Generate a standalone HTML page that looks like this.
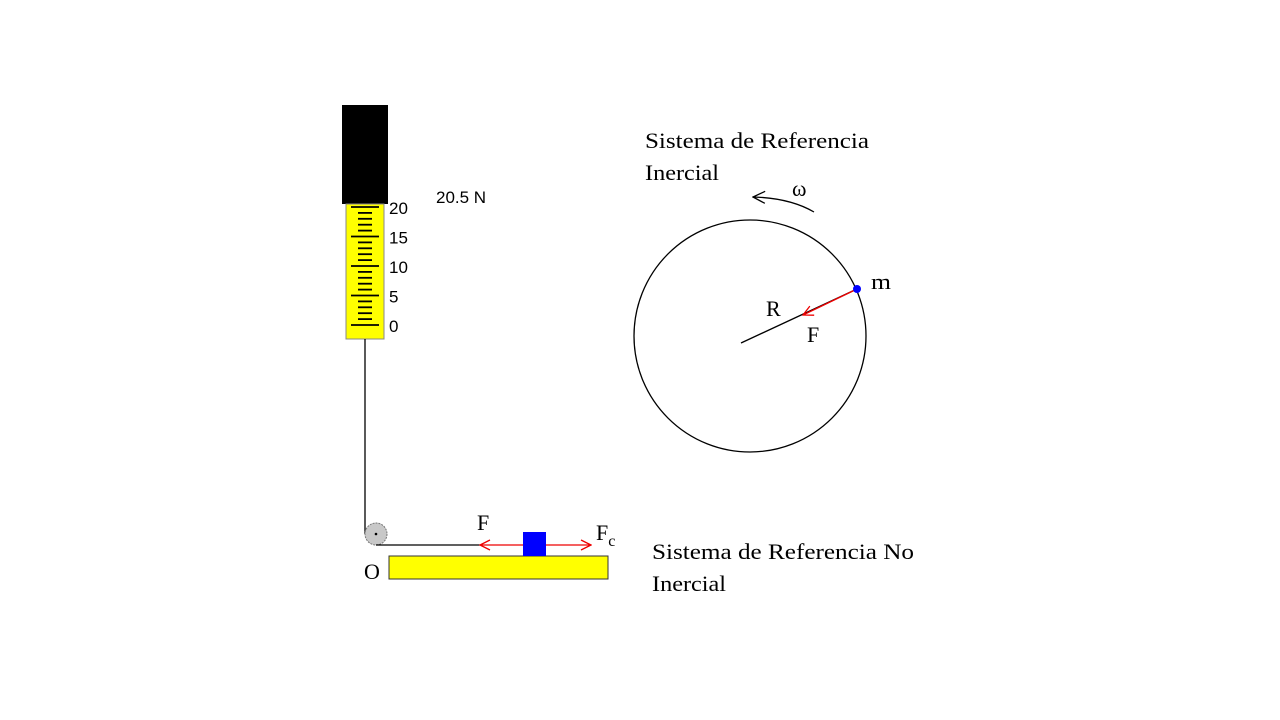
<!DOCTYPE html>
<html><head><meta charset="utf-8"><style>
html,body{margin:0;padding:0;background:#fff;width:1280px;height:720px;overflow:hidden}
svg{display:block}
.serif{font-family:"Liberation Serif",serif;font-size:22px;fill:#000}
.sans{font-family:"Liberation Sans",sans-serif;font-size:17px;fill:#000}
</style></head><body>
<svg width="1280" height="720">
<defs>
<marker id="ah" markerWidth="12" markerHeight="12" refX="11" refY="6" orient="auto" markerUnits="userSpaceOnUse">
<path d="M1,1 L11,6 L1,11" fill="none" stroke="#e00" stroke-width="1.3"/></marker>
<marker id="ahk" markerWidth="14" markerHeight="14" refX="13" refY="7" orient="auto" markerUnits="userSpaceOnUse">
<path d="M1,1 L13,7 L1,13" fill="none" stroke="#000" stroke-width="1.3"/></marker>
</defs>
<g>
<rect x="342" y="105" width="46" height="99" fill="#000"/>
<rect x="346" y="204" width="38" height="135" fill="#ffff00" stroke="#888" stroke-width="1"/>
<g id="ticks"></g>
<g id="labels"></g>
<text class="sans" x="436" y="203">20.5 N</text>
</g>
<line x1="365" y1="339" x2="365" y2="534" stroke="#000" stroke-width="1.3"/>
<circle cx="376" cy="534" r="11" fill="#c8c8c8" stroke="#777" stroke-dasharray="2 1"/>
<circle cx="376" cy="534" r="1.3" fill="#000"/>
<line x1="376" y1="545" x2="480" y2="545" stroke="#000" stroke-width="1.3"/>
<rect x="389" y="556" width="219" height="23" fill="#ffff00" stroke="#333" stroke-width="1"/>
<text class="serif" x="364" y="579" font-size="20">O</text>
<line x1="535" y1="545" x2="480" y2="545" stroke="#e00" stroke-width="1.3" marker-end="url(#ah)"/>
<line x1="535" y1="545" x2="591" y2="545" stroke="#e00" stroke-width="1.3" marker-end="url(#ah)"/>
<rect x="523" y="532" width="23" height="24" fill="#0000ff"/>
<text class="serif" x="477" y="530">F</text>
<text class="serif" x="596" y="540">F<tspan font-size="16" dy="6">c</tspan></text>
<text class="serif" x="652" y="559" textLength="262" lengthAdjust="spacingAndGlyphs">Sistema de Referencia No</text>
<text class="serif" x="652" y="591" textLength="74" lengthAdjust="spacingAndGlyphs">Inercial</text>
<text class="serif" x="645" y="148" textLength="224" lengthAdjust="spacingAndGlyphs">Sistema de Referencia</text>
<text class="serif" x="645" y="180" textLength="74" lengthAdjust="spacingAndGlyphs">Inercial</text>
<path d="M814,212 Q790,198 753,197" fill="none" stroke="#000" stroke-width="1.3" marker-end="url(#ahk)"/>
<text class="serif" x="792" y="196" font-size="19">ω</text>
<circle cx="750" cy="336" r="116" fill="none" stroke="#000" stroke-width="1.3"/>
<line x1="741" y1="343" x2="857" y2="289" stroke="#000" stroke-width="1.3"/>
<line x1="857" y1="289" x2="803" y2="315" stroke="#e00" stroke-width="1.3" marker-end="url(#ah)"/>
<circle cx="857" cy="289" r="4" fill="#0000ff"/>
<text class="serif" x="871" y="289" textLength="20" lengthAdjust="spacingAndGlyphs">m</text>
<text class="serif" x="766" y="316">R</text>
<text class="serif" x="807" y="342">F</text>
</svg>
<script>
const tickValues=[0,1,2,3,4,5,6,7,8,9,10,11,12,13,14,15,16,17,18,19,20];
const labelValues=[0,5,10,15,20];
const y=v=>325-v*5.9;
const ns="http://www.w3.org/2000/svg";
const tg=document.getElementById('ticks');
tickValues.forEach(v=>{const l=document.createElementNS(ns,'line');const major=v%5===0;
l.setAttribute('x1',major?351:358);l.setAttribute('x2',major?379:372);
l.setAttribute('y1',y(v));l.setAttribute('y2',y(v));l.setAttribute('stroke','#000');l.setAttribute('stroke-width','1.8');


tg.appendChild(l);});
const lg=document.getElementById('labels');
labelValues.forEach(v=>{const t=document.createElementNS(ns,'text');t.setAttribute('x',389);t.setAttribute('y',y(v)+7);
t.setAttribute('class','sans');t.setAttribute('font-size','19');t.textContent=v;


lg.appendChild(t);});
</script>
</body></html>
